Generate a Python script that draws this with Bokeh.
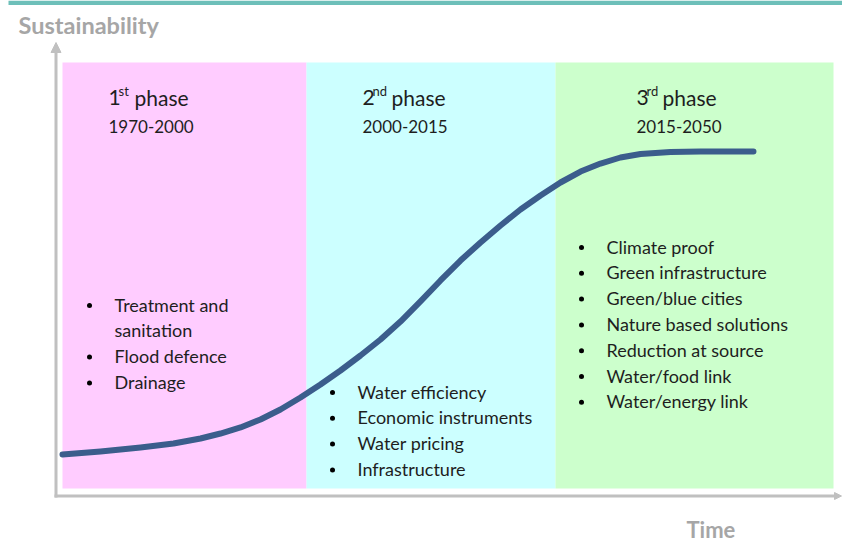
from bokeh.plotting import figure
from bokeh.models import Range1d, Arrow, NormalHead
from bokeh.core.properties import value
from bokeh.embed import file_html
from bokeh.resources import INLINE

# ---------------- data ----------------
phase_names = ["phase", "phase", "phase"]
phase_numbers = ["1", "2", "3"]
phase_suffix = ["st", "nd", "rd"]
phase_years = ["1970-2000", "2000-2015", "2015-2050"]
# phase extents on a normalised time axis (0-100)
phase_start = [0.0, 31.65, 63.94]
phase_end = [31.65, 63.94, 100.0]
phase_colors = ["#ffccff", "#ccffff", "#ccffcc"]

items_1 = ["Treatment and\nsanitation", "Flood defence", "Drainage"]
items_2 = ["Water efficiency", "Economic instruments", "Water pricing", "Infrastructure"]
items_3 = ["Climate proof", "Green infrastructure", "Green/blue cities",
           "Nature based solutions", "Reduction at source", "Water/food link",
           "Water/energy link"]

# sustainability curve (time 0-100, sustainability 0-100)
curve_time = [0.0, 4.93, 10.12, 14.40, 17.90, 20.49, 23.09, 25.68, 28.27, 30.87,
              33.46, 36.06, 38.65, 41.25, 43.84, 46.43, 49.03, 51.62, 54.22,
              56.81, 59.40, 62.00, 64.59, 67.19, 69.78, 72.37, 74.97, 78.86,
              82.75, 89.62]
curve_sust = [7.98, 8.69, 9.62, 10.56, 11.74, 12.91, 14.32, 16.20, 18.54, 21.36,
              24.41, 27.70, 31.22, 34.98, 39.20, 43.90, 48.83, 53.52, 57.75,
              61.74, 65.49, 68.78, 71.83, 74.41, 76.29, 77.70, 78.52, 79.00,
              79.11, 79.11]

y_title = "Sustainability"
x_title = "Time"

# ---------------- layout helpers (page pixels -> data) ----------------
W, H = 842, 544
PX0, PY_BOTTOM = 62.0, 488.0      # page pixel of time=0 / sustainability=0
SX, SY = 7.71, 4.26               # pixels per unit
TDY = -7                          # baseline correction for text glyphs


def tx(px):
    return (px - PX0) / SX


def ty(py):
    return (PY_BOTTOM - py) / SY


def tb(py):
    return ty(py + TDY)


X0, X1 = tx(0), tx(W)
Y0, Y1 = ty(H), ty(0)

p = figure(width=W, height=H, x_range=Range1d(X0, X1), y_range=Range1d(Y0, Y1),
           output_backend="svg", toolbar_location=None,
           x_axis_type=None, y_axis_type=None, min_border=0)
p.outline_line_color = None
p.background_fill_color = "white"
p.border_fill_color = "white"
for g in p.grid:
    g.visible = False

FONT = value("Lato")
DARK = "#1e1e1e"
GREY = "#a6a6a6"

# top teal bar
p.quad(left=[tx(8)], right=[X1], top=[Y1], bottom=[ty(4.5)],
       fill_color="#6dbfb9", line_color=None)

# phase backgrounds
p.quad(left=phase_start, right=phase_end, top=[100] * 3, bottom=[0] * 3,
       fill_color=phase_colors, line_color=None)

# axes arrows
axis_col = "#c0c0c0"
p.add_layout(Arrow(x_start=tx(55.5), y_start=ty(497), x_end=tx(55.5), y_end=ty(42),
                   line_color=axis_col, line_width=3,
                   end=NormalHead(size=10, fill_color=axis_col, line_color=axis_col)))
p.add_layout(Arrow(x_start=tx(54), y_start=ty(495.5), x_end=tx(841), y_end=ty(495.5),
                   line_color=axis_col, line_width=3,
                   end=NormalHead(size=7, fill_color=axis_col, line_color=axis_col)))

# curve
p.line(curve_time, curve_sust, line_color="#3b5d8c", line_width=6,
       line_join="round", line_cap="round")

# headers
num_x = [108, 362, 636]
sup_x = [118, 372, 646]
word_x = [134, 391, 662]
p.text(x=[tx(v) for v in num_x], y=[tb(104)] * 3, text=phase_numbers,
       text_font=FONT, text_font_size=value("21px"), text_color=DARK,
       text_baseline="alphabetic", text_align="left")
p.text(x=[tx(v) for v in sup_x], y=[tb(97)] * 3, text=phase_suffix,
       text_font=FONT, text_font_size=value("13px"), text_color=DARK,
       text_baseline="alphabetic", text_align="left")
p.text(x=[tx(v) for v in word_x], y=[tb(104)] * 3, text=phase_names,
       text_font=FONT, text_font_size=value("21px"), text_color=DARK,
       text_baseline="alphabetic", text_align="left")
p.text(x=[tx(v) for v in num_x], y=[tb(133)] * 3, text=phase_years,
       text_font=FONT, text_font_size=value("17px"), text_color=DARK,
       text_baseline="alphabetic", text_align="left")

# bullet lists
bullet_x = [89, 332, 581]
text_x = [114, 357, 606]
first_base = [311, 398, 253]
STEP = 25.8
bx, by, lx, ly, lt = [], [], [], [], []
for items, bxp, txp, b0 in zip([items_1, items_2, items_3], bullet_x, text_x, first_base):
    row = 0
    for it in items:
        bx.append(tx(bxp))
        by.append(ty(b0 + row * STEP - 6))
        for line in it.split("\n"):
            lx.append(tx(txp))
            ly.append(tb(b0 + row * STEP))
            lt.append(line)
            row += 1
p.text(x=lx, y=ly, text=lt, text_font=FONT, text_font_size=value("18px"),
       text_color=DARK, text_baseline="alphabetic", text_align="left")
p.scatter(x=bx, y=by, size=5, marker="circle", fill_color="#000000", line_color=None)

# axis titles
p.text(x=[tx(18)], y=[tb(31)], text=[y_title], text_font=FONT,
       text_font_size=value("23.5px"), text_font_style="bold", text_color=GREY,
       text_baseline="alphabetic", text_align="left")
p.text(x=[tx(686)], y=[tb(536)], text=[x_title], text_font=FONT,
       text_font_size=value("22px"), text_font_style="bold", text_color=GREY,
       text_baseline="alphabetic", text_align="left")

open("out.html", "w").write(file_html(p, INLINE))
